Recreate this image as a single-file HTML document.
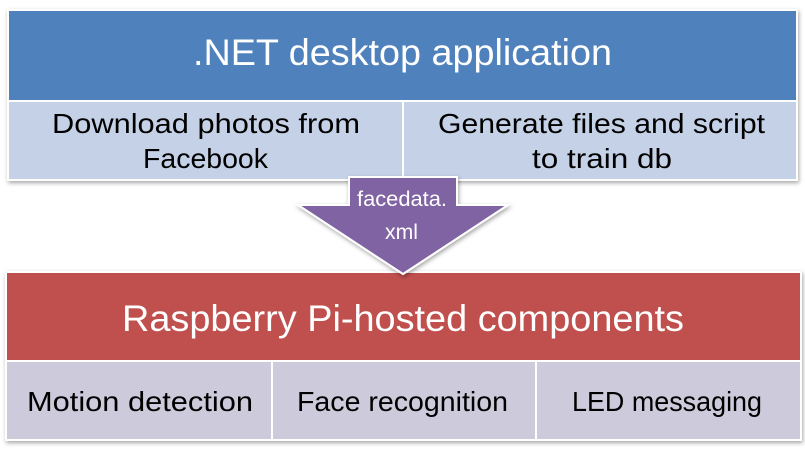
<!DOCTYPE html>
<html><head><style>body{margin:0;background:#fff}svg{display:block}</style></head><body>
<svg width="805" height="449" xmlns="http://www.w3.org/2000/svg" font-family="Liberation Sans, sans-serif">
<defs><filter id="s" x="-5%" y="-5%" width="110%" height="115%"><feDropShadow dx="1" dy="2" stdDeviation="2" flood-color="#000" flood-opacity="0.35"/></filter></defs>
<rect x="7" y="9" width="791" height="172" fill="#fff" filter="url(#s)"/>
<rect x="9" y="11" width="787" height="89" fill="#4F81BD"/>
<rect x="9" y="102" width="393" height="77" fill="#C5D1E6"/>
<rect x="404" y="102" width="392" height="77" fill="#C5D1E6"/>
<text x="193" y="65" font-size="37" fill="#fff" textLength="419" lengthAdjust="spacingAndGlyphs">.NET desktop application</text>
<text x="52" y="133" font-size="28" fill="#000" textLength="308" lengthAdjust="spacingAndGlyphs">Download photos from</text>
<text x="143" y="168" font-size="28" fill="#000" textLength="125" lengthAdjust="spacingAndGlyphs">Facebook</text>
<text x="438" y="133" font-size="28" fill="#000" textLength="327" lengthAdjust="spacingAndGlyphs">Generate files and script</text>
<text x="532" y="168" font-size="28" fill="#000" textLength="140" lengthAdjust="spacingAndGlyphs">to train db</text>
<rect x="5" y="271" width="797" height="170" fill="#fff" filter="url(#s)"/>
<rect x="7" y="273" width="793" height="87" fill="#C0504D"/>
<rect x="7" y="362" width="264" height="77" fill="#CDCADB"/>
<rect x="273" y="362" width="262" height="77" fill="#CDCADB"/>
<rect x="537" y="362" width="263" height="77" fill="#CDCADB"/>
<text x="122" y="331" font-size="37" fill="#fff" textLength="562" lengthAdjust="spacingAndGlyphs">Raspberry Pi-hosted components</text>
<text x="27" y="411" font-size="28" fill="#000" textLength="226" lengthAdjust="spacingAndGlyphs">Motion detection</text>
<text x="297" y="411" font-size="28" fill="#000" textLength="211" lengthAdjust="spacingAndGlyphs">Face recognition</text>
<text x="572" y="411" font-size="28" fill="#000" textLength="190" lengthAdjust="spacingAndGlyphs">LED messaging</text>
<polygon points="349,177 457,177 457,205 508,205 403,274 298,205 349,205" fill="#8064A2" stroke="#fff" stroke-width="2" filter="url(#s)"/>
<text x="357" y="206" font-size="21" fill="#fff" textLength="90" lengthAdjust="spacingAndGlyphs">facedata.</text>
<text x="385" y="239" font-size="21" fill="#fff" textLength="33" lengthAdjust="spacingAndGlyphs">xml</text>
</svg>
</body></html>
